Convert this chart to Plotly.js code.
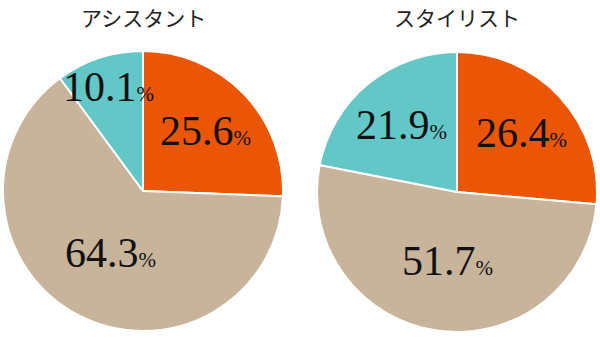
<!DOCTYPE html>
<html><head><meta charset="utf-8">
<script src="https://cdn.plot.ly/plotly-3.0.1.min.js"></script>
<style>html,body{margin:0;padding:0;background:#fff}</style>
</head><body><div id="chart" style="width:600px;height:342px"></div>
<script>
const categories = ["A", "B", "C"];
const assistantValues = [25.6, 64.3, 10.1];
const stylistValues = [26.4, 51.7, 21.9];
const chartTitles = ["アシスタント", "スタイリスト"];
const sliceColors = ["#EA5506", "#C8B39B", "#62C7C6"];

const W = 600, H = 342, R = 140;
const pies = [
  {values: assistantValues, title: chartTitles[0], cx: 143, cy: 191},
  {values: stylistValues, title: chartTitles[1], cx: 457, cy: 192}
];

const data = [];
const annotations = [];
pies.forEach(p => {
  data.push({
    type: "pie", values: p.values, labels: categories, sort: false,
    direction: "clockwise", rotation: 0,
    marker: {colors: sliceColors, line: {color: "#ffffff", width: 2}},
    textinfo: "none", hoverinfo: "none", showlegend: false,
    domain: {x: [(p.cx - R) / W, (p.cx + R) / W], y: [(H - p.cy - R) / H, (H - p.cy + R) / H]}
  });
  annotations.push({
    xref: "paper", yref: "paper", x: p.cx / W, y: 1 - 1 / H, xanchor: "center", yanchor: "top",
    text: p.title, showarrow: false, borderpad: 0,
    font: {family: "Noto Sans CJK JP, sans-serif", size: 21, color: "#222222"}
  });
  const total = p.values.reduce((a, b) => a + b, 0);
  let acc = 0;
  p.values.forEach(v => {
    const share = v / total;
    const mid = (acc + v / 2) / total * 2 * Math.PI;
    acc += v;
    const frac = share < 0.2 ? 0.78 : (share > 0.5 ? 0.5 : 0.62);
    const x = p.cx + R * frac * Math.sin(mid);
    const y = p.cy - R * frac * Math.cos(mid);
    annotations.push({
      xref: "paper", yref: "paper", x: x / W, y: 1 - y / H, xanchor: "center", yanchor: "middle",
      showarrow: false,
      text: v.toFixed(1) + "<span style='font-size:21px'>%</span>",
      font: {family: "Liberation Serif, serif", size: 42, color: "#111111"}
    });
  });
});

const layout = {width: W, height: H, margin: {l: 0, r: 0, t: 0, b: 0}, paper_bgcolor: "#fff", annotations: annotations};
Plotly.newPlot("chart", data, layout, {displayModeBar: false, staticPlot: true});
</script></body></html>
